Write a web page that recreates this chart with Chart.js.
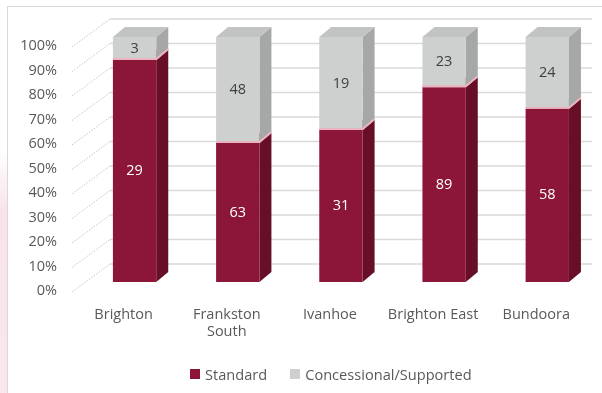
<!DOCTYPE html>
<html>
<head>
<meta charset="utf-8">
<script src="https://cdn.jsdelivr.net/npm/chart.js"></script>
<style>
  html, body { margin: 0; padding: 0; background: #fff; overflow: hidden; }
  #wrap { position: relative; width: 602px; height: 393px; overflow: hidden;
          font-family: 'Open Sans', sans-serif; }
  #frame { position: absolute; left: 7px; top: 6px; right: -2px; bottom: -2px;
           border-left: 1px solid #d9d9d9; border-top: 1px solid #d9d9d9; }
  #haze { position: absolute; left: 0; top: 150px; width: 8px; height: 243px;
          background: linear-gradient(to bottom, rgba(255, 255, 255, 0), rgba(243, 208, 217, 0.6) 25%, rgba(243, 208, 217, 0.5)); }
  canvas { position: absolute; left: 0; top: 0; }
  #legend { position: absolute; left: 190px; top: 364px; display: flex; align-items: center;
            font-size: 14.6px; color: #595959; white-space: nowrap; }
  #legend .item { display: flex; align-items: center; margin-right: 23px; }
  #legend .box { width: 10px; height: 10px; margin-right: 5px; }
</style>
</head>
<body>
<div id="wrap">
  <div id="haze"></div>
  <div id="frame"></div>
  <canvas id="chart" width="605" height="393"></canvas>
  <div id="legend"></div>
</div>
<script>
// client counts per office
const suburbs = [["Brighton"], ["Frankston", "South"], ["Ivanhoe"], ["Brighton East"], ["Bundoora"]];
const standard = [29, 63, 31, 89, 58];
const concessional = [3, 48, 19, 23, 24];
const tickStep = 10;

// 100% stacked: each bar is a share of its office total
const totals = standard.map((v, i) => v + concessional[i]);
const share = (arr) => arr.map((v, i) => (v / totals[i]) * 100);

const FONT = "'Open Sans', sans-serif";
const TEXT = "#595959";

// extrusion of the boxes and of the chart walls
const DX = 12, DY = 10;
const WALL_LEFT = 72, WALL_BACK = 110, WALL_RIGHT = 592, WALL_UP = 18, WALL_DOWN = 10;

const bar3d = {
  id: "bar3d",
  beforeDatasetsDraw(chart) {
    const { ctx, scales: { y } } = chart;
    ctx.save();
    y.ticks.forEach((t) => {
      const py = y.getPixelForValue(t.value);
      // back wall
      ctx.strokeStyle = "#d9d9d9";
      ctx.lineWidth = 1.5;
      ctx.setLineDash([]);
      ctx.beginPath();
      ctx.moveTo(WALL_BACK, py - WALL_UP);
      ctx.lineTo(WALL_RIGHT, py - WALL_UP);
      ctx.stroke();
      // side wall
      ctx.strokeStyle = "#c4c4c4";
      ctx.lineWidth = 1;
      ctx.setLineDash([1.5, 1.5]);
      ctx.beginPath();
      ctx.moveTo(WALL_LEFT, py + WALL_DOWN);
      ctx.lineTo(WALL_BACK, py - WALL_UP);
      ctx.stroke();
    });
    ctx.setLineDash([]);

    // side and top faces, the front faces are drawn by the bar controller
    chart.data.datasets.forEach((ds, di) => {
      chart.getDatasetMeta(di).data.forEach((bar) => {
        const { x, y: top, base, width } = bar.getProps(["x", "y", "base", "width"], true);
        const l = x - width / 2, r = x + width / 2;
        ctx.fillStyle = ds.sideColor;
        ctx.beginPath();
        ctx.moveTo(r, base);
        ctx.lineTo(r + DX, base - DY);
        ctx.lineTo(r + DX, top - DY);
        ctx.lineTo(r, top);
        ctx.closePath();
        ctx.fill();
        ctx.fillStyle = ds.topColor;
        ctx.beginPath();
        ctx.moveTo(l, top);
        ctx.lineTo(l + DX, top - DY);
        ctx.lineTo(r + DX, top - DY);
        ctx.lineTo(r, top);
        ctx.closePath();
        ctx.fill();
      });
    });
    ctx.restore();
  },
  afterDatasetsDraw(chart) {
    const { ctx } = chart;
    ctx.save();
    // light seam where the grey box sits on the red one
    chart.getDatasetMeta(1).data.forEach((bar) => {
      const { x, base, width } = bar.getProps(["x", "base", "width"], true);
      ctx.strokeStyle = "#eab3c0";
      ctx.lineWidth = 2;
      ctx.beginPath();
      ctx.moveTo(x - width / 2, base - 1);
      ctx.lineTo(x + width / 2, base - 1);
      ctx.lineTo(x + width / 2 + DX, base - 1 - DY);
      ctx.stroke();
    });
    // counts in the middle of each front face
    ctx.font = "14.5px " + FONT;
    ctx.textAlign = "center";
    ctx.textBaseline = "middle";
    chart.data.datasets.forEach((ds, di) => {
      chart.getDatasetMeta(di).data.forEach((bar, i) => {
        const { x, y: top, base } = bar.getProps(["x", "y", "base"], true);
        ctx.fillStyle = ds.labelColor;
        ctx.fillText(String(ds.counts[i]), x, (top + base) / 2);
      });
    });
    ctx.restore();
  }
};

const ctx = document.getElementById("chart").getContext("2d");
const chart = new Chart(ctx, {
  type: "bar",
  data: {
    labels: suburbs,
    datasets: [
      {
        label: "Standard",
        data: share(standard),
        counts: standard,
        backgroundColor: "#8c1637",
        sideColor: "#670f27",
        topColor: "#b0405c",
        labelColor: "#ffffff",
        borderWidth: 0,
        barPercentage: 0.7,
        categoryPercentage: 0.6
      },
      {
        label: "Concessional/Supported",
        data: share(concessional),
        counts: concessional,
        backgroundColor: "#cdd0cf",
        sideColor: "#a6a7a7",
        topColor: "#c2c3c3",
        labelColor: "#404040",
        borderWidth: 0,
        barPercentage: 0.7,
        categoryPercentage: 0.6
      }
    ]
  },
  options: {
    responsive: false,
    animation: false,
    layout: { padding: { left: 0, right: 0, top: 37, bottom: 0 } },
    scales: {
      x: {
        stacked: true,
        grid: { display: false, drawTicks: false },
        border: { display: false },
        ticks: { color: TEXT, font: { family: FONT, size: 14.5 }, padding: 24, labelOffset: -11, maxRotation: 0 },
        afterFit(scale) { scale.height = 111; }
      },
      y: {
        stacked: true,
        min: 0,
        max: 100,
        grid: { display: false, drawTicks: false },
        border: { display: false },
        ticks: {
          stepSize: tickStep,
          color: TEXT,
          font: { family: FONT, size: 14.5 },
          padding: 26,
          labelOffset: 9,
          callback: (v) => v + "%"
        },
        afterFit(scale) { scale.width = 83; }
      }
    },
    plugins: {
      legend: { display: false },
      tooltip: { enabled: false }
    }
  },
  plugins: [bar3d]
});

// legend row under the plot
const legend = document.getElementById("legend");
chart.data.datasets.forEach((ds) => {
  const item = document.createElement("span");
  item.className = "item";
  const box = document.createElement("span");
  box.className = "box";
  box.style.background = ds.backgroundColor;
  item.appendChild(box);
  item.appendChild(document.createTextNode(ds.label));
  legend.appendChild(item);
});
</script>
</body>
</html>
